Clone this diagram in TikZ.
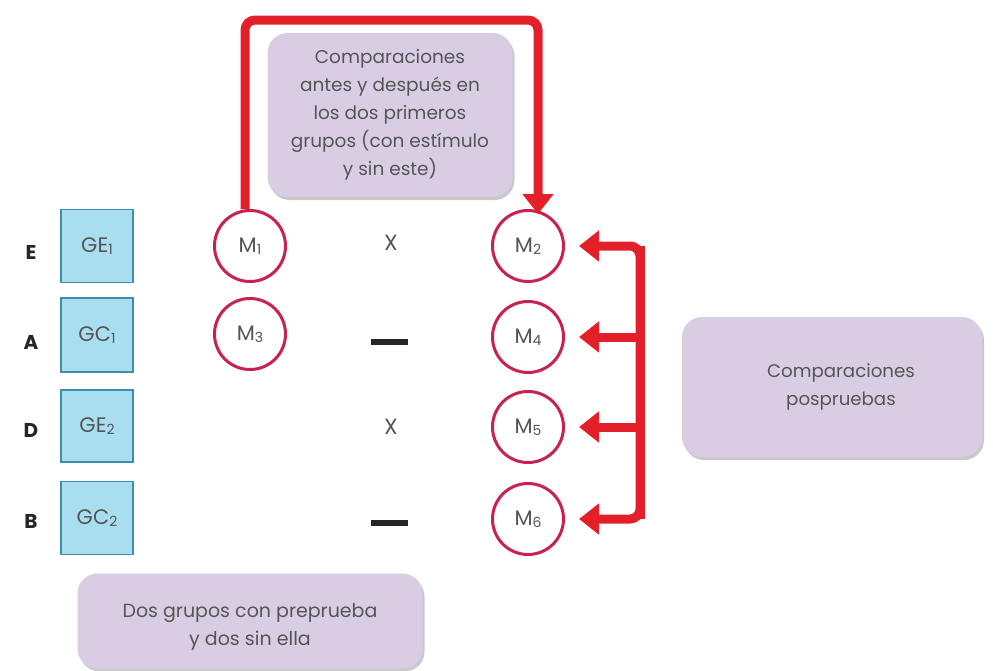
\documentclass[tikz,border=0pt]{standalone}
\usepackage{fontspec}
\setmainfont{Poppins}
\usetikzlibrary{arrows.meta,shadows}
\definecolor{redA}{HTML}{E3202A}
\definecolor{circ}{HTML}{C8224E}
\definecolor{lav}{HTML}{D9CDE4}
\definecolor{bfill}{HTML}{A9DDF0}
\definecolor{bdraw}{HTML}{3E8FAA}
\definecolor{txt}{HTML}{555555}
\tikzset{
  grp/.style={draw=bdraw, fill=bfill, line width=1.5pt, minimum width=72pt, minimum height=73pt, inner sep=0pt, text=txt, font=\fontsize{21}{23}\selectfont},
  meas/.style={circle, draw=circ, line width=3pt, minimum size=71pt, inner sep=0pt, text=txt, font=\fontsize{21}{23}\selectfont},
  rowlab/.style={text=black!85, font=\fontsize{20}{22}\selectfont\bfseries},
  treat/.style={text=txt, font=\fontsize{22}{24}\selectfont},
  nodash/.style={fill=black!85, minimum width=37pt, minimum height=6pt, inner sep=0pt},
  note/.style={fill=lav, rounded corners=20pt, align=center, text=txt, inner sep=0pt,
    drop shadow={shadow xshift=2pt, shadow yshift=-3pt, opacity=0.35, fill=black!60}},
  notetext/.style={align=center, text=txt, inner sep=0pt},
  redline/.style={draw=redA, line width=9pt},
  redarrow/.style={redline, -{Triangle[length=20pt,width=30pt]}},
}
\newcommand{\sub}[1]{\raisebox{-0.2ex}{\fontsize{14}{14}\selectfont #1}}
\begin{document}
\begin{tikzpicture}[x=1pt,y=-1pt]
\useasboundingbox (0,0) rectangle (993,670);
\fill[white] (0,0) rectangle (993,670);

% row labels
\node[rowlab] (lE) at (31,252) {E};
\node[rowlab] (lA) at (31,342) {A};
\node[rowlab] (lD) at (31,430) {D};
\node[rowlab] (lB) at (31,521) {B};

% group boxes
\node[grp] (g1) at (97,246) {GE\sub{1}};
\node[grp, minimum height=74pt] (g2) at (97,335) {GC\sub{1}};
\node[grp, minimum height=72pt] (g3) at (97,426) {GE\sub{2}};
\node[grp] (g4) at (97,518) {GC\sub{2}};

% measurement circles
\node[meas] (M1) at (250,246) {M\sub{1}};
\node[meas] (M3) at (250,334) {M\sub{3}};
\node[meas] (M2) at (528,246) {M\sub{2}};
\node[meas] (M4) at (528,337) {M\sub{4}};
\node[meas] (M5) at (528,427) {M\sub{5}};
\node[meas] (M6) at (528,519) {M\sub{6}};

% treatments
\node[treat] (x1) at (391,243) {X};
\node[nodash] (d1) at (389,342) {};
\node[treat] (x2) at (391,427) {X};
\node[nodash] (d2) at (389,523) {};

% notes
\node[note, minimum width=245pt, minimum height=164pt, font=\fontsize{18.5}{28}\selectfont] (n1) at (390,115)
  {Comparaciones\\antes y después en\\los dos primeros\\grupos (con estímulo\\y sin este)};
\node[note, minimum width=300pt, minimum height=140pt] (n2) at (832,387) {};
\node[notetext, font=\fontsize{18.2}{28}\selectfont] (t2) at ([xshift=9pt]n2.center) {Comparaciones\\pospruebas};
\node[note, minimum width=345pt, minimum height=95pt] (n3) at (250,621) {};
\node[notetext, font=\fontsize{19}{28}\selectfont] (t3) at ([yshift=-6pt]n3.center) {Dos grupos con preprueba\\y dos sin ella};

% top comparison arrow
\coordinate (top) at (390,20);
\draw[redarrow, rounded corners=10pt] ([xshift=-5pt]M1.north) |- (top) -| ([xshift=10pt,yshift=-5pt]M2.north);

% posttest bracket
\coordinate (sp) at (640,382);
\draw[redline] (sp |- M2.east) -- (sp |- M6.east);
\draw[redarrow, rounded corners=10pt, shorten >=14pt] (sp) |- (M2.east);
\draw[redarrow, shorten >=14pt] (sp |- M4.east) -- (M4.east);
\draw[redarrow, shorten >=14pt] (sp |- M5.east) -- (M5.east);
\draw[redarrow, rounded corners=10pt, shorten >=14pt] (sp) |- (M6.east);
\end{tikzpicture}
\end{document}
